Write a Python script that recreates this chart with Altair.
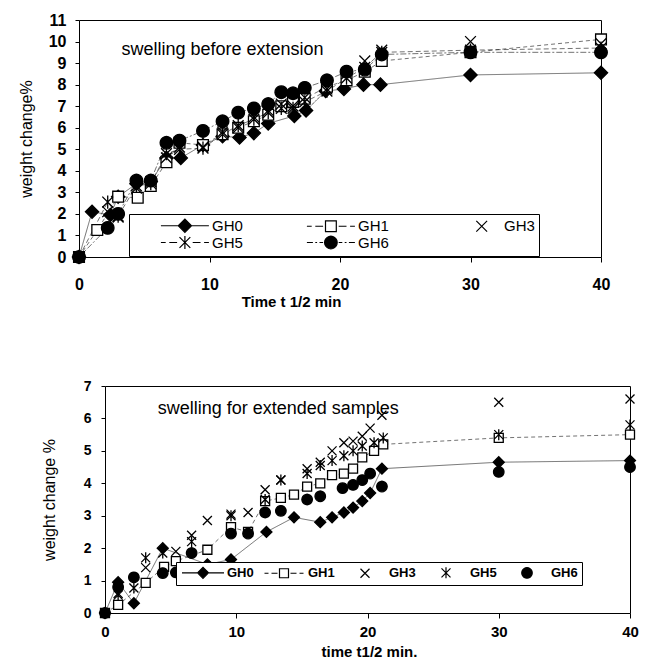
import math
import altair as alt
import pandas as pd

SERIES = ["GH0", "GH1", "GH3", "GH5", "GH6"]
FONT = "Liberation Sans"

# ---------------- top panel: swelling before extension ----------------
top_gh0_t = [0, 1, 2.4, 3, 4.4, 5.5, 6.7, 7.8, 9.5, 11, 12.3, 13.4, 14.5, 16.5, 17.4, 18.9, 20.3, 21.8, 23.1, 30, 40]
top_gh0_w = [0, 2.1, 1.95, 2.8, 3.4, 3.5, 4.6, 4.6, 5.2, 5.6, 5.55, 5.75, 6.2, 6.55, 6.8, 7.7, 7.8, 8.0, 8.0, 8.45, 8.55]
top_gh1_t = [0, 1.4, 3, 4.5, 5.5, 6.7, 7.7, 9.5, 11, 12.2, 13.4, 14.5, 15.5, 16.4, 17.3, 19, 20.5, 21.9, 23.2, 30, 40]
top_gh1_w = [0, 1.25, 2.8, 2.75, 3.3, 4.4, 5.3, 5.2, 5.7, 6.0, 6.3, 6.6, 7.0, 7.2, 7.35, 7.9, 8.2, 8.6, 9.1, 9.5, 10.1]
top_gh3_t = [0, 2.2, 3, 4.4, 5.5, 6.7, 7.7, 9.5, 11, 12.2, 13.4, 14.5, 15.5, 16.4, 17.3, 19, 20.5, 21.9, 23.2, 30, 40]
top_gh3_w = [0, 2.1, 1.85, 3.2, 3.5, 4.6, 5.1, 5.1, 5.8, 6.0, 6.5, 6.8, 7.1, 7.0, 7.4, 7.8, 8.5, 9.1, 9.6, 10.0, 9.9]
top_gh5_t = [0, 2.2, 3, 4.4, 5.5, 6.7, 7.7, 9.5, 11, 12.2, 13.4, 14.5, 15.5, 16.4, 17.3, 19, 20.5, 21.9, 23.2, 30, 40]
top_gh5_w = [0, 2.55, 1.9, 3.3, 3.4, 4.8, 5.0, 5.05, 5.7, 6.1, 6.4, 6.7, 6.9, 6.9, 7.2, 7.7, 8.3, 8.8, 9.5, 9.6, 9.7]
top_gh6_t = [0, 2.2, 3, 4.4, 5.5, 6.7, 7.7, 9.5, 11, 12.2, 13.4, 14.5, 15.5, 16.4, 17.3, 19, 20.5, 21.9, 23.2, 30, 40]
top_gh6_w = [0, 1.35, 2.0, 3.55, 3.55, 5.3, 5.4, 5.85, 6.3, 6.7, 6.9, 7.1, 7.65, 7.6, 7.85, 8.2, 8.6, 8.7, 9.4, 9.5, 9.5]

# ---------------- bottom panel: swelling for extended samples ----------------
bot_gh0_t = [0, 1, 2.2, 4.4, 7.8, 9.6, 12.3, 14.4, 16.4, 17.3, 18.2, 18.9, 19.6, 20.2, 21.1, 30, 40]
bot_gh0_w = [0, 0.95, 0.3, 2.0, 1.5, 1.65, 2.5, 2.95, 2.8, 2.95, 3.1, 3.25, 3.45, 3.7, 4.45, 4.65, 4.7]
bot_gh1_t = [0, 1, 3.1, 4.5, 5.4, 7.8, 9.6, 10.9, 12.2, 13.4, 14.4, 15.4, 16.4, 17.3, 18.2, 18.9, 19.6, 20.5, 21.2, 30, 40]
bot_gh1_w = [0, 0.25, 0.93, 1.42, 1.6, 1.95, 2.65, 2.5, 3.45, 3.55, 3.65, 3.9, 4.0, 4.25, 4.3, 4.45, 4.8, 5.0, 5.2, 5.4, 5.5]
bot_gh3_t = [0, 1, 3.1, 5.4, 6.6, 7.8, 9.6, 10.9, 12.2, 13.4, 15.4, 16.4, 17.3, 18.2, 18.9, 19.6, 20.2, 21.1, 30, 40]
bot_gh3_w = [0, 0.6, 1.4, 1.9, 2.4, 2.85, 3.05, 3.1, 3.8, 4.1, 4.45, 4.65, 5.0, 5.25, 5.3, 5.45, 5.7, 6.1, 6.5, 6.6]
bot_gh5_t = [0, 1, 2.2, 3.1, 4.4, 6.6, 9.6, 12.2, 13.4, 15.4, 16.4, 17.3, 18.2, 18.9, 19.6, 20.5, 21.2, 30, 40]
bot_gh5_w = [0, 0.55, 0.77, 1.7, 1.85, 2.2, 3.0, 3.5, 4.1, 4.3, 4.55, 4.7, 4.85, 5.0, 5.15, 5.25, 5.4, 5.5, 5.8]
bot_gh6_t = [0, 1, 2.2, 4.4, 5.4, 6.6, 9.6, 10.9, 12.2, 13.4, 15.4, 16.4, 18.1, 18.9, 19.6, 20.2, 21.1, 30, 40]
bot_gh6_w = [0, 0.8, 1.1, 1.23, 1.25, 1.85, 2.45, 2.45, 3.1, 3.15, 3.5, 3.6, 3.85, 3.95, 4.1, 4.3, 3.9, 4.35, 4.5]

top_note = ["swelling before extension"]
top_note_t = [11]
top_note_w = [9.6]
bot_note = ["swelling for extended samples"]
bot_note_t = [13.2]
bot_note_w = [6.3]

x_ticks = [0, 10, 20, 30, 40]
top_y_ticks = list(range(0, 12))
bot_y_ticks = list(range(0, 8))


def to_frame(groups):
    rows = []
    for name, ts, ws in groups:
        rows += [{"series": name, "t": t, "w": w} for t, w in zip(ts, ws)]
    return pd.DataFrame(rows)


top_df = to_frame([("GH0", top_gh0_t, top_gh0_w), ("GH1", top_gh1_t, top_gh1_w),
                   ("GH3", top_gh3_t, top_gh3_w), ("GH5", top_gh5_t, top_gh5_w),
                   ("GH6", top_gh6_t, top_gh6_w)])
bot_df = to_frame([("GH0", bot_gh0_t, bot_gh0_w), ("GH1", bot_gh1_t, bot_gh1_w),
                   ("GH3", bot_gh3_t, bot_gh3_w), ("GH5", bot_gh5_t, bot_gh5_w),
                   ("GH6", bot_gh6_t, bot_gh6_w)])


# ---- marker glyphs as SVG paths (unit box), cx = horizontal centre ----
def f(v):
    return f"{v:.3f}"


def diamond(cx=0.0):
    return f"M{f(cx-1.1)},0L{f(cx)},-1.1L{f(cx+1.1)},0L{f(cx)},1.1Z"


def square(cx=0.0):
    return f"M{f(cx-0.9)},-0.9L{f(cx+0.9)},-0.9L{f(cx+0.9)},0.9L{f(cx-0.9)},0.9Z"


def cross(cx=0.0):
    return f"M{f(cx-0.9)},-0.9L{f(cx+0.9)},0.9M{f(cx-0.9)},0.9L{f(cx+0.9)},-0.9"


def star(cx=0.0):
    return cross(cx) + f"M{f(cx)},-1.1L{f(cx)},1.1"


def circle(cx=0.0):
    pts = [f"{f(cx + 1.05 * math.cos(2 * math.pi * k / 20))},{f(1.05 * math.sin(2 * math.pi * k / 20))}"
           for k in range(20)]
    return "M" + "L".join(pts) + "Z"


def segs(cx, pieces):
    return "".join(f"M{f(cx+a)},0L{f(cx+b)},0" for a, b in pieces)


def solid(cx, h):
    return segs(cx, [(-h, -1.2), (1.2, h)])


def dashed(cx, h):
    return segs(cx, [(-h, -h + 0.8), (-h + 1.4, -1.3), (1.3, h - 1.4), (h - 0.8, h)])


def dashdot(cx, h):
    return segs(cx, [(-h, -h + 1.0), (-h + 1.4, -h + 1.7), (-h + 2.1, -1.3),
                     (1.3, h - 2.1), (h - 1.7, h - 1.4), (h - 1.0, h)])


ANCHOR = "M-1.1,0L-1.1,0"   # zero-length anchor keeps legend entry bounds at the nominal left edge

MARKERS = [diamond(), square(), cross(), star(), circle()]
FILLS = ["black", "white", "transparent", "transparent", "black"]
STROKES = ["black"] * 5

TC = 7.4   # top-legend marker centre (units)
TOP_LEGEND_SYMBOLS = [ANCHOR + solid(TC, 4) + diamond(TC), ANCHOR + dashed(TC, 4) + square(TC),
                      ANCHOR + cross(TC + 0.8), ANCHOR + dashed(TC, 4) + star(TC),
                      ANCHOR + dashdot(TC, 4) + circle(TC)]
BC = 3.3   # bottom-legend marker centre (units)
BOT_LEGEND_SYMBOLS = [ANCHOR + solid(BC, 4.2) + diamond(BC), ANCHOR + dashed(BC, 3.9) + square(BC),
                      ANCHOR + cross(BC), ANCHOR + star(BC), ANCHOR + circle(BC)]

axis_common = dict(labelFont=FONT, titleFont=FONT, labelFontWeight="bold", labelColor="black",
                   titleColor="black", domainColor="black", tickColor="black", grid=False,
                   labelFlush=False, labelOverlap=False)
frame_axis = dict(labels=False, ticks=False, title=None, grid=False, domainColor="black", domainWidth=1)


def panel(df, notes, width, height, xrange, ydom, size, line_series, line_dash,
          legend, legend_symbols, xaxis, yaxis):
    xs = alt.Scale(domain=[0, 40], range=xrange, nice=False)
    ys = alt.Scale(domain=ydom, nice=False)
    base = alt.Chart(df)
    lines = base.transform_filter(
        alt.FieldOneOfPredicate(field="series", oneOf=line_series)
    ).mark_line(strokeWidth=0.8, color="#222", opacity=0.8).encode(
        x=alt.X("t:Q", scale=xs, axis=None), y=alt.Y("w:Q", scale=ys, axis=None), detail="series:N",
        strokeDash=alt.StrokeDash("series:N", scale=alt.Scale(domain=line_series, range=line_dash), legend=None),
    )
    points = base.mark_point(filled=True, stroke="black", strokeWidth=1.3, size=size, opacity=1).encode(
        x=alt.X("t:Q", scale=xs, axis=xaxis), y=alt.Y("w:Q", scale=ys, axis=yaxis),
        shape=alt.Shape("series:N", scale=alt.Scale(domain=SERIES, range=MARKERS), legend=None),
        fill=alt.Fill("series:N", scale=alt.Scale(domain=SERIES, range=FILLS), legend=None),
    )
    leg = base.transform_filter("false").mark_point(filled=True, strokeWidth=1.3, opacity=1).encode(
        x=alt.X("t:Q", scale=xs, axis=alt.Axis(orient="top", **frame_axis)),
        y=alt.Y("w:Q", scale=ys, axis=alt.Axis(orient="right", **frame_axis)),
        shape=alt.Shape("series:N", scale=alt.Scale(domain=SERIES, range=legend_symbols), legend=legend),
        fill=alt.Fill("series:N", scale=alt.Scale(domain=SERIES, range=FILLS), legend=legend),
        stroke=alt.Stroke("series:N", scale=alt.Scale(domain=SERIES, range=STROKES), legend=legend),
    )
    note = alt.Chart(notes).mark_text(font=FONT, fontSize=18, color="black").encode(
        x=alt.X("t:Q", scale=xs, axis=None), y=alt.Y("w:Q", scale=ys, axis=None), text="label:N")
    return alt.layer(lines, points, leg, note).resolve_scale(
        shape="independent", fill="independent", stroke="independent"
    ).resolve_axis(x="independent", y="independent").properties(
        width=width, height=height, view=alt.ViewBackground(stroke="transparent"))


NBSP8 = "\u00a0" * 8
top_legend = alt.Legend(orient="none", legendX=50, legendY=194, direction="horizontal", columns=3,
                        title=None, symbolSize=144, symbolStrokeWidth=1.2, gridAlign="each",
                        labelFont=FONT, labelFontSize=15, labelColor="black", labelOffset=64,
                        labelExpr="datum.label == 'GH3' ? datum.label + '" + NBSP8 + "' : datum.label + '      '",
                        columnPadding=34, rowPadding=-4, padding=4, strokeColor="black",
                        fillColor="white", symbolOpacity=1)
bot_legend = alt.Legend(orient="none", legendX=97, legendY=176, direction="horizontal", columns=5,
                        title=None, symbolSize=100, symbolStrokeWidth=1.2, gridAlign="all",
                        labelFont=FONT, labelFontSize=13, labelFontWeight="bold", labelColor="black",
                        labelOffset=34, columnPadding=5, padding=4, strokeColor="black",
                        fillColor="white", symbolOpacity=1)

top = panel(
    top_df, pd.DataFrame({"label": top_note, "t": top_note_t, "w": top_note_w}),
    522, 237, [0, 522], [0, 11], 144,
    ["GH0", "GH1", "GH5", "GH6"], [[1, 0], [4, 3], [5, 3], [6, 2, 2, 2]],
    top_legend, TOP_LEGEND_SYMBOLS,
    alt.Axis(values=x_ticks, labelFontSize=16, tickSize=5, labelPadding=14, title="Time t 1/2 min",
             titleFontSize=15, titleFontWeight="bold", titleX=212, titleY=44, titleBaseline="middle",
             **axis_common),
    alt.Axis(values=top_y_ticks, labelFontSize=16, tickSize=4, labelPadding=9, title="weight change%",
             titleFontSize=16, titleFontWeight="normal", titlePadding=14, **axis_common),
)

bottom = panel(
    bot_df, pd.DataFrame({"label": bot_note, "t": bot_note_t, "w": bot_note_w}),
    551, 227, [26, 551], [0, 7], 100,
    ["GH0", "GH1"], [[1, 0], [3, 3]],
    bot_legend, BOT_LEGEND_SYMBOLS,
    alt.Axis(values=x_ticks, labelFontSize=15, tickSize=5, labelPadding=6, title="time t1/2 min.",
             titleFontSize=15, titleFontWeight="bold", titleX=290, titleY=38, titleBaseline="middle",
             **axis_common),
    alt.Axis(values=bot_y_ticks, labelFontSize=14, tickSize=4, labelPadding=10, title="weight change %",
             titleFontSize=16, titleFontWeight="normal", titlePadding=26, offset=-26, **axis_common),
)

chart = alt.concat(top, bottom, columns=1, spacing=68).properties(
    padding={"left": 9, "top": 3, "right": 0, "bottom": 0}
).configure(background="white")

chart.save("out.html", embed_options={"renderer": "svg", "actions": False})
